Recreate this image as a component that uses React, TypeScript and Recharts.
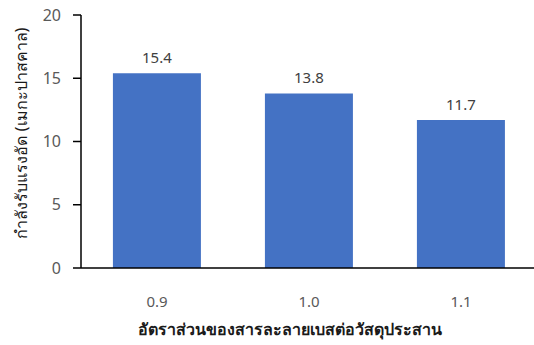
import { BarChart, Bar, XAxis, YAxis, LabelList } from 'recharts';

const ratios = ['0.9', '1.0', '1.1'];
const strength = [15.4, 13.8, 11.7];
const yTicks = [0, 5, 10, 15, 20];

const data = ratios.map((r, i) => ({ ratio: r, value: strength[i] }));

const font = '"Noto Sans", "Open Sans", sans-serif';

const YTitle = () => (
  <text
    x={0}
    y={0}
    transform="translate(21,133) rotate(-90)"
    textAnchor="middle"
    dominantBaseline="central"
    fontSize={16}
    fontWeight={500}
    fill="#1a1a1a"
    fontFamily={font}
  >
    กำลังรับแรงอัด (เมกะปาสคาล)
  </text>
);

const XTitle = () => (
  <text
    x={290}
    y={329}
    textAnchor="middle"
    dominantBaseline="central"
    fontSize={16}
    fontWeight={600}
    fill="#1a1a1a"
    fontFamily={font}
  >
    อัตราส่วนของสารละลายเบสต่อวัสดุประสาน
  </text>
);

export default function App() {
  return (
    <div style={{ position: 'absolute', left: 0, top: 0, width: 534, height: 345, background: '#fff' }}>
      <BarChart
        width={534}
        height={345}
        data={data}
        margin={{ top: 15, right: -3, left: 0, bottom: 0 }}
        barCategoryGap="21%"
      >
        <XAxis
          dataKey="ratio"
          height={77}
          tickLine={false}
          axisLine={{ stroke: '#000', strokeWidth: 1.5 }}
          tick={{ fontSize: 15, fill: '#595959', fontFamily: font }}
          tickMargin={22}
        />
        <YAxis
          width={81}
          domain={[0, 20]}
          ticks={yTicks}
          interval={0}
          tickSize={8}
          tickMargin={12}
          axisLine={{ stroke: '#000', strokeWidth: 1.5 }}
          tickLine={{ stroke: '#000', strokeWidth: 1.5 }}
          tick={{ fontSize: 16, fill: '#595959', fontFamily: font }}
        />
        <Bar dataKey="value" fill="#4472c4" isAnimationActive={false}>
          <LabelList
            dataKey="value"
            position="top"
            offset={10}
            style={{ fontSize: 15, fill: '#404040', fontFamily: font }}
          />
        </Bar>
        <YTitle />
        <XTitle />
      </BarChart>
    </div>
  );
}
